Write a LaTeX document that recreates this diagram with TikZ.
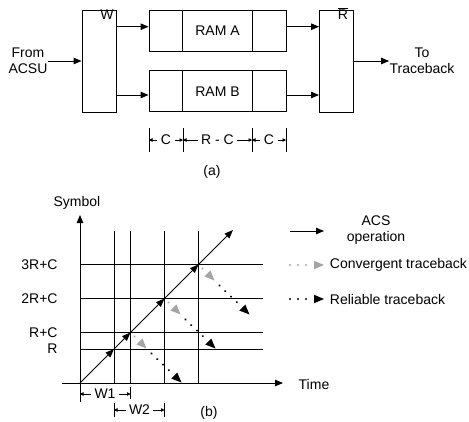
\documentclass[tikz,border=0pt]{standalone}
\usepackage{fontspec}
\setmainfont{Liberation Sans}
\usetikzlibrary{arrows.meta}
\definecolor{tracegray}{RGB}{165,165,165}

\begin{document}
\begin{tikzpicture}[
    x=1pt, y=-1pt,
    font=\fontsize{14}{16}\selectfont,
    line width=0.9pt,
    block/.style={draw, minimum width=34pt, minimum height=102pt, inner sep=0pt},
    ram/.style={draw, minimum width=137pt, minimum height=41pt, inner sep=0pt},
    label/.style={inner sep=0pt, align=center},
    dimlabel/.style={inner xsep=3pt, inner ysep=0pt},
    legend/.style={anchor=west, inner xsep=5.5pt, inner ysep=0pt},
    arrow/.style={-{Triangle[length=8pt, width=6.5pt]}},
    dimarrow/.style={-{Triangle[length=3.5pt, width=3.5pt]}, line width=0.7pt},
    acs/.style={-{Triangle[length=8.5pt, width=6.5pt]}},
    dotline/.style={line width=2.2pt, line cap=round, dash pattern=on 0.01pt off 8pt},
    trace/.style={dotline, -{Triangle[length=10pt, width=8.5pt, line width=0pt]}},
    grid line/.style={line width=0.8pt}
]
    \useasboundingbox (0,0) rectangle (469,421);

    % (a) memory organisation
    \node[block] (wbox) at (99,61) {};
    \node[label] (wlab) at (107,15) {W};
    \node[ram] (rama) at (217.5,30.5) {RAM A};
    \node[ram] (ramb) at (217.5,91.3) {RAM B};
    \node[block] (rbox) at (336.5,61) {};
    \node[label] (rlab) at (343,15) {R};
    \draw[line width=0.7pt] ([yshift=1.8pt, xshift=0.5pt]rlab.north west) -- ([yshift=1.8pt, xshift=-0.5pt]rlab.north east);
    \node[label] (from) at (28,61) {From\\ACSU};
    \node[label] (to) at (422,61) {To\\Traceback};

    \foreach \r in {rama, ramb} {
        \draw ([xshift=34pt]\r.north west) -- ([xshift=34pt]\r.south west);
        \draw ([xshift=-34pt]\r.north east) -- ([xshift=-34pt]\r.south east);
    }

    \path ([yshift=3.8pt]rama.west) coordinate (ina)
          ([yshift=-3.7pt]ramb.west) coordinate (inb)
          ([yshift=3.8pt]rama.east) coordinate (outa)
          ([yshift=-3.7pt]ramb.east) coordinate (outb);

    \draw[arrow] (from.east) -- (wbox.west);
    \draw[arrow] (wbox.east |- ina) -- (ina);
    \draw[arrow] (wbox.east |- inb) -- (inb);
    \draw[arrow] (outa) -- (rbox.west |- outa);
    \draw[arrow] (outb) -- (rbox.west |- outb);
    \draw[arrow] (rbox.east) -- (to.west);

    \foreach \n/\x in {t1/149, t2/183, t3/252, t4/286} {
        \coordinate (\n) at (\x,140);
        \draw (\n) ++(0,-12) -- ++(0,24);
    }
    \node[dimlabel] (dc1) at (166,140) {C};
    \node[dimlabel] (drc) at (217.5,140) {R - C};
    \node[dimlabel] (dc2) at (269,140) {C};
    \draw[dimarrow] (dc1.west) -- (t1);
    \draw[dimarrow] (dc1.east) -- (t2);
    \draw[dimarrow] (drc.west) -- (t2);
    \draw[dimarrow] (drc.east) -- (t3);
    \draw[dimarrow] (dc2.west) -- (t3);
    \draw[dimarrow] (dc2.east) -- (t4);

    \node[label] (capa) at (212,172) {(a)};

    % (b) traceback timing
    \foreach \y in {349, 332.5, 298.5, 264.5}
        \draw[grid line] (80,\y) -- (263,\y);
    \foreach \x in {114, 130.5, 164.5, 198.5}
        \draw[grid line] (\x,231) -- (\x,383);

    \coordinate (ybot) at (80,402);
    \coordinate (ytop) at (80,215);
    \coordinate (xleft) at (62,383);
    \coordinate (xtip) at (283,383);
    \draw[arrow] (ybot) -- (ytop);
    \draw[arrow] (xleft) -- (xtip);

    \node[label] (sym) at (77,203) {Symbol};
    \node[label] (time) at (314,384) {Time};
    \node[label, anchor=east] (l4) at (58,264.5) {3R+C};
    \node[label, anchor=east] (l3) at (58,298.5) {2R+C};
    \node[label, anchor=east] (l2) at (58,332.5) {R+C};
    \node[label, anchor=east] (l1) at (58,349) {R};

    \coordinate (d0) at (80,383);
    \coordinate (d1) at (114,349);
    \coordinate (d2) at (130.5,332.5);
    \coordinate (d3) at (164.5,298.5);
    \coordinate (d4) at (198.5,264.5);
    \coordinate (d5) at (233,230);
    \foreach \a/\b in {d0/d1, d1/d2, d2/d3, d3/d4, d4/d5}
        \draw[acs] (\a) -- (\b);

    \foreach \s in {d2, d3, d4} {
        \draw[trace, tracegray] ([shift={(4,4)}]\s) -- ([shift={(16,16)}]\s);
        \draw[trace] ([shift={(21,21)}]\s) -- ([shift={(51,50)}]\s);
    }

    \coordinate (w1a) at (80,394);
    \coordinate (w1b) at (130.5,394);
    \draw (130.5,387) -- (130.5,399);
    \node[dimlabel] (w1) at (105,394) {W1};
    \draw[dimarrow] (w1.west) -- (w1a);
    \draw[dimarrow] (w1.east) -- (w1b);

    \coordinate (w2a) at (114,410);
    \coordinate (w2b) at (164.5,410);
    \draw (w2a) ++(0,-7) -- ++(0,14);
    \draw (w2b) ++(0,-7) -- ++(0,14);
    \node[dimlabel] (w2) at (139.5,410) {W2};
    \draw[dimarrow] (w2.west) -- (w2a);
    \draw[dimarrow] (w2.east) -- (w2b);

    \node[label] (capb) at (209,413) {(b)};

    % legend
    \coordinate (lacs) at (290,231);
    \coordinate (lacsend) at (324,231);
    \draw[arrow] (lacs) -- (lacsend);
    \node[label] (acs) at (376,230.5) {ACS\\operation};
    \coordinate (lconv) at (290,265);
    \node[legend] (conv) at (324,265) {Convergent traceback};
    \draw[trace, tracegray] (lconv) -- (conv.west);
    \coordinate (lrel) at (290,299);
    \node[legend] (rel) at (324,299) {Reliable traceback};
    \draw[trace] (lrel) -- (rel.west);
\end{tikzpicture}
\end{document}
